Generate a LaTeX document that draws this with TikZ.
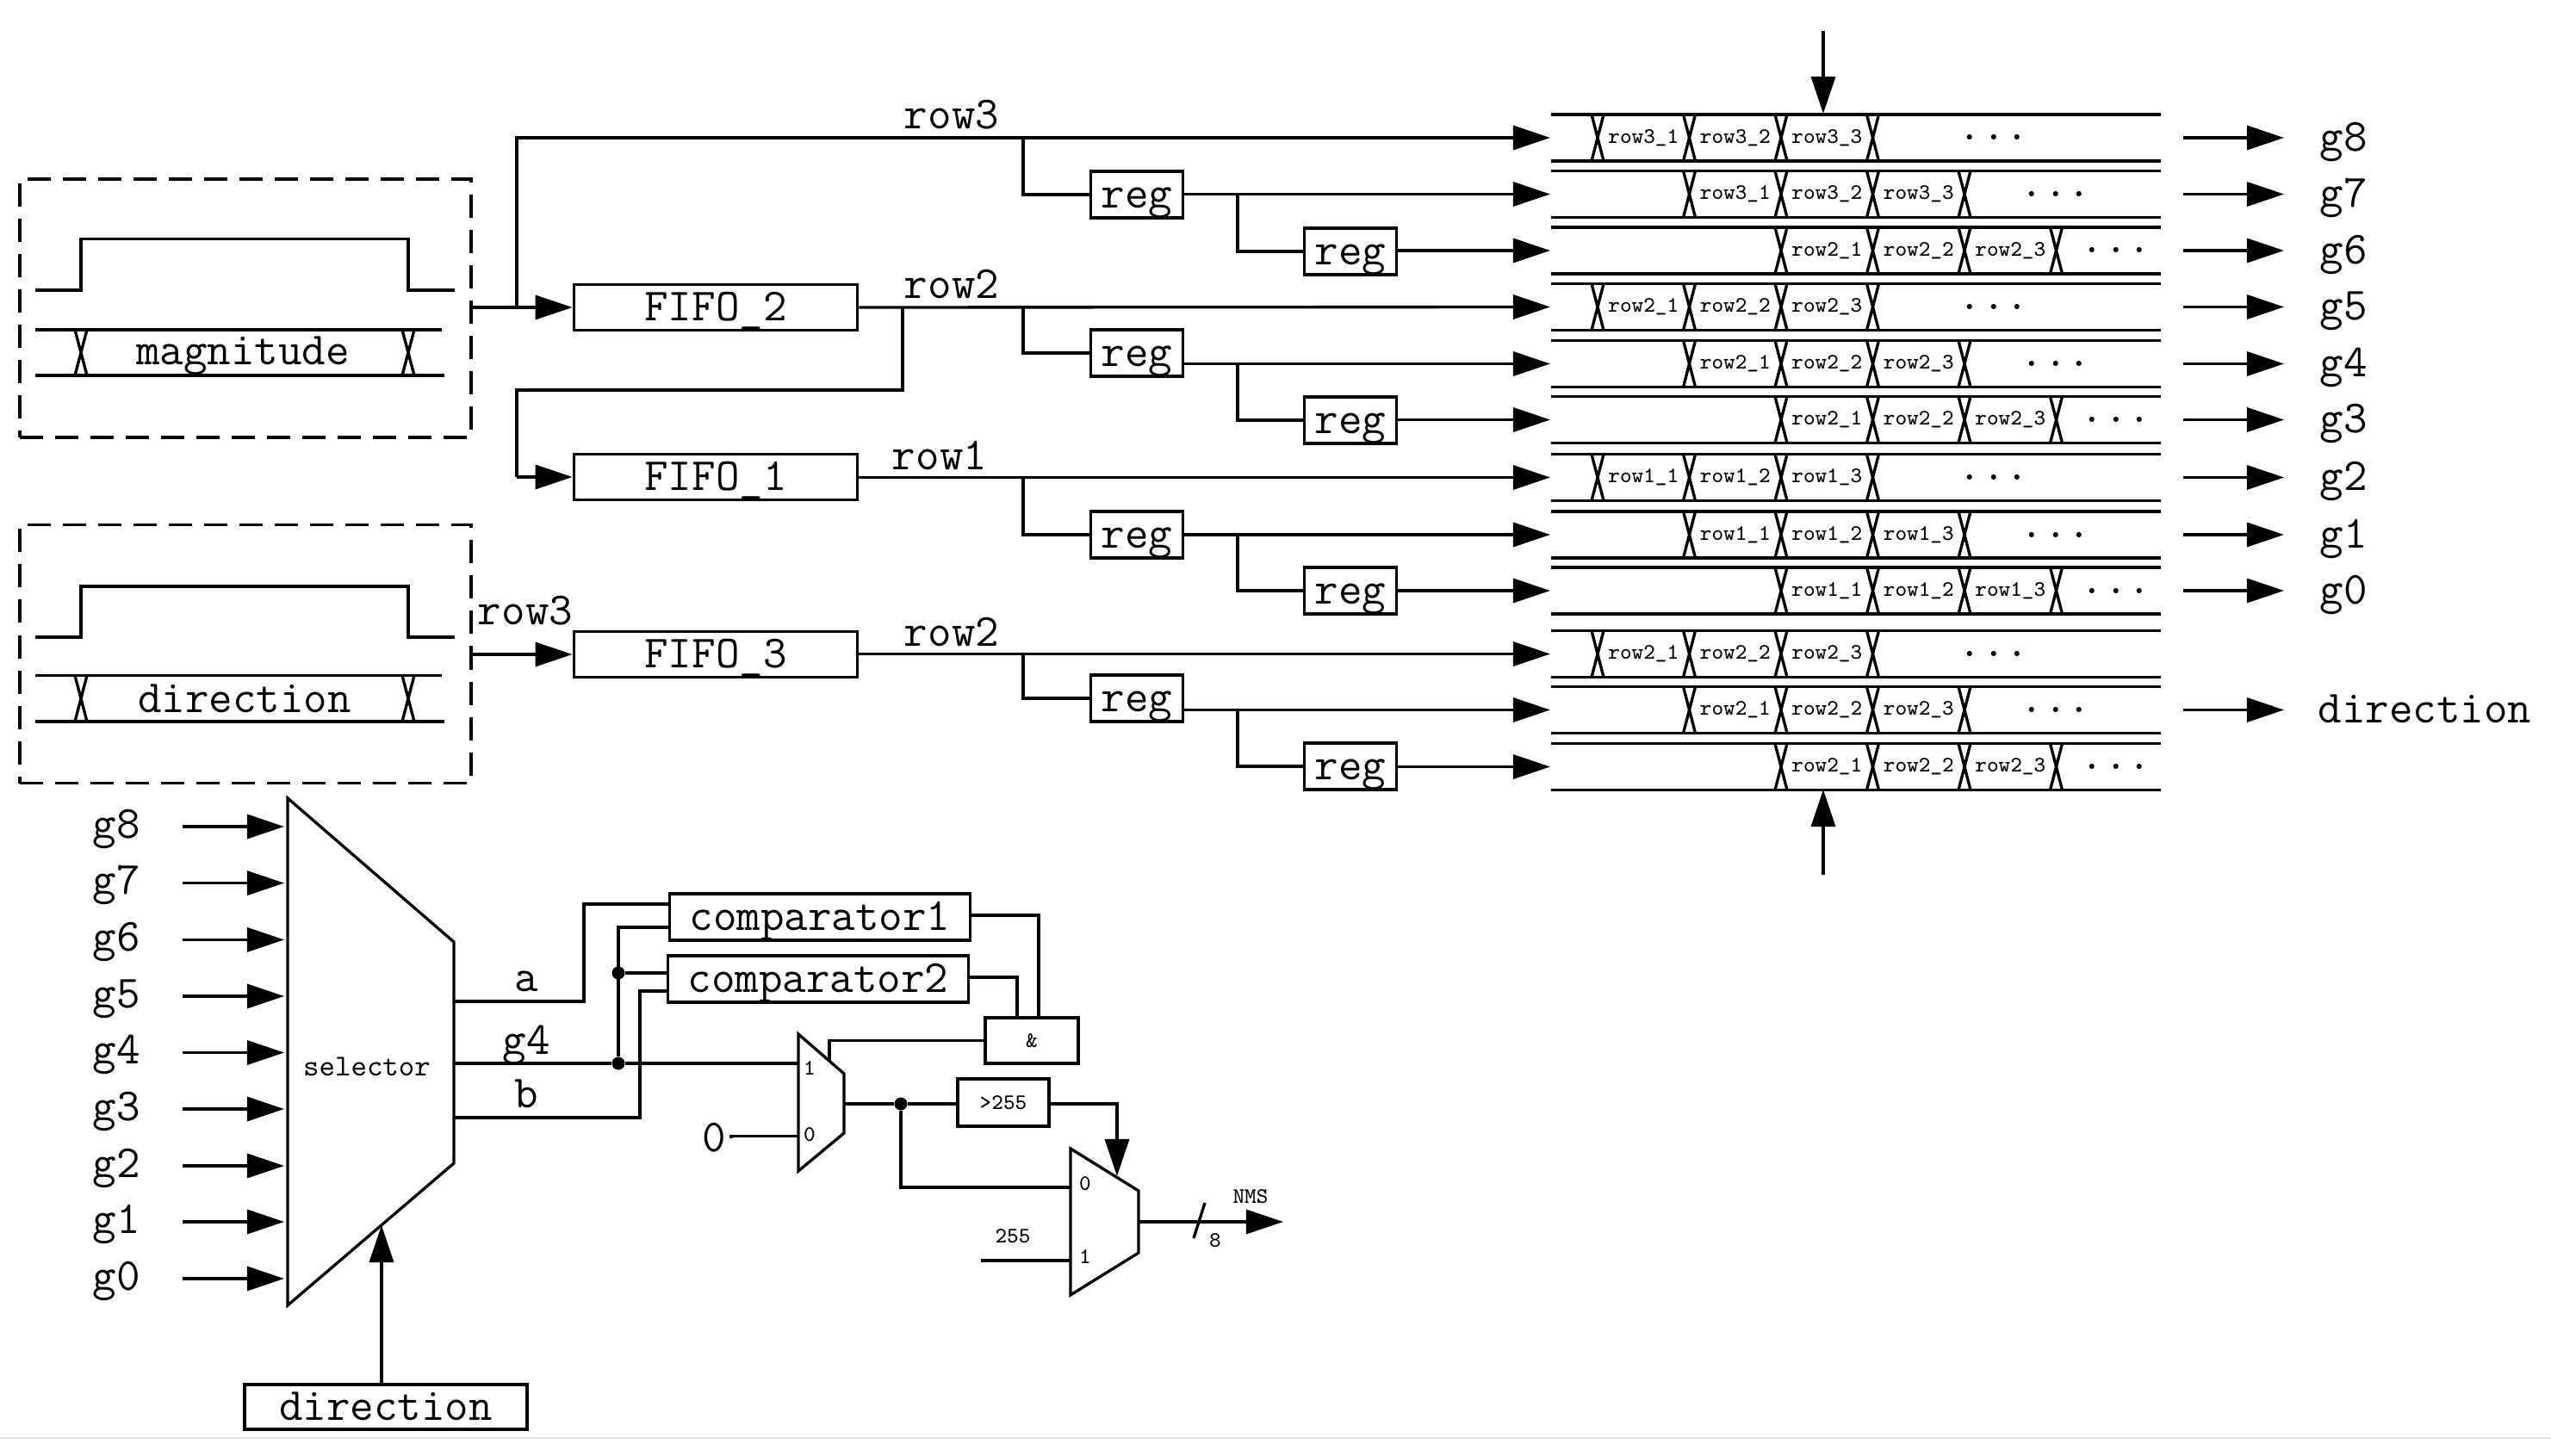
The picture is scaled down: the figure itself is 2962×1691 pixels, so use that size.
\documentclass[tikz,border=0pt]{standalone}
\usetikzlibrary{arrows.meta,calc}

\tikzset{wire/.style={line width=0.95pt},
arr/.style={wire,-{Triangle[length=0.43cm,width=0.28cm]}},
sig/.style={line width=1.1pt},
bigtext/.style={font=\fontsize{15.2}{16}\ttfamily,inner sep=0pt,text height=0.40cm,text depth=0.10cm},
smalltext/.style={font=\fontsize{7.3}{8}\ttfamily,inner sep=0pt},
blockbox/.style={draw,line width=1pt,fill=white,inner sep=0pt,minimum width=#1,bigtext},
regbox/.style={blockbox=1.07cm,minimum height=0.54cm},
fifobox/.style={blockbox=3.29cm,minimum height=0.53cm},
compbox/.style={blockbox=3.49cm,minimum height=0.54cm},
dashbox/.style={draw,line width=1pt,dash pattern=on 0.27cm off 0.14cm,minimum width=5.24cm,minimum height=3cm,inner sep=0pt},
dot/.style={circle,fill=black,inner sep=0pt,minimum size=0.15cm}}

\newcommand{\buscross}[3]{\draw[wire] (#1-7,#2) -- (#1+7,#3) (#1+7,#2) -- (#1-7,#3);
	\draw[sig] (#1-25,#2) -- (#1+25,#2) (#1-25,#3) -- (#1+25,#3);}
\newcommand{\wavebus}[4]{\draw[wire] (41,#2) -- (94,#2) -- (94,#1) -- (474,#1) -- (474,#2) -- (528,#2);
	\draw[wire] (41,#3) -- (513,#3) (41,#4) -- (516,#4);
	\buscross{94}{#3}{#4}
	\buscross{474}{#3}{#4}}

\begin{document}
\begin{tikzpicture}[x=0.01cm,y=-0.01cm]
\useasboundingbox (0,0) rectangle (2962,1691);
\draw[gray!20,line width=0.5pt] (0,1670) -- (2962,1670);

% input waveforms
\node [dashbox] (magbox) at (285,358) {};
\node [dashbox] (dirbox) at (285,759.5) {};
\wavebus{277.5}{337}{383}{436}
\wavebus{681}{740}{784.5}{838}
\node [bigtext] (magtext) at (282,408) {magnitude};
\node [bigtext] (dirtext) at (284,812) {direction};

% fifos
\node [fifobox] (fifo2) at (831,357) {FIFO\_2};
\node [fifobox] (fifo1) at (831,554) {FIFO\_1};
\node [fifobox] (fifo3) at (831,760) {FIFO\_3};

% timing rows
\foreach \y/\pre/\xa/\dotx [count=\n] in {160/row3/1855/2315,225.5/row3/1961.5/2387,291/row2/2068/2457,
356.5/row2/1855/2315,422.5/row2/1961.5/2387,487.5/row2/2068/2457,
554.5/row1/1855/2315,621/row1/1961.5/2387,686/row1/2068/2457,
759.5/row2/1855/2315,824.5/row2/1961.5/2387,890.5/row2/2068/2457}{
	\coordinate (t\n) at (1800,\y);
	\draw[sig] (1801,\y-27) -- (2509,\y-27) (1801,\y+27) -- (2509,\y+27);
	\foreach \k in {0,1,2,3}{\buscross{\xa+106.5*\k}{\y-27}{\y+27}}
	\foreach \k in {1,2,3}{\node [smalltext] (l\n-\k) at (\xa+106.5*\k-53.25,\y) {\pre\_\k};}
	\node [bigtext,anchor=base] (more\n) at (\dotx,\y+3) {...};
}

% registers
\coordinate (xa) at (1188,0);
\coordinate (xb) at (1437,0);
\foreach \n/\nxt/\lst/\rya/\ryb in {1/2/3/226/292,4/5/6/410/488,7/8/9/621/686,10/11/12/811/890}{
	\node [regbox] (rega\n) at (1320,\rya) {reg};
	\node [regbox] (regb\n) at (1568,\ryb) {reg};
	\draw[wire] (t\n -| xa) |- (rega\n.west);
	\draw[arr] (rega\n.east |- t\nxt) -- (t\nxt);
	\draw[wire] (t\nxt -| xb) |- (regb\n.west);
	\draw[arr] (regb\n.east |- t\lst) -- (t\lst);
}

% wires to the rows
\coordinate (xup) at (600,0);
\coordinate (xdown) at (1048,453);
\draw[arr] (magbox.east |- fifo2) -- (fifo2.west);
\draw[arr] (fifo2 -| xup) |- (t1);
\draw[arr] (fifo2.east) -- (t4);
\draw[wire] (fifo2 -| xdown) -- (xdown) -| (xup |- fifo1);
\draw[arr] (xup |- fifo1) -- (fifo1.west);
\draw[arr] (fifo1.east |- t7) -- (t7);
\draw[arr] (dirbox.east |- fifo3) -- (fifo3.west);
\draw[arr] (fifo3.east |- t10) -- (t10);
\node [bigtext] (row3a) at (1105,134) {row3};
\node [bigtext] (row2a) at (1105,331) {row2};
\node [bigtext] (row1a) at (1091,530) {row1};
\node [bigtext] (row2b) at (1105,735) {row2};
\node [bigtext] (row3b) at (610,710) {row3};

% outputs of the rows
\coordinate (xo) at (2535,0);
\coordinate (xp) at (2652,0);
\foreach \n/\lab in {1/g8,2/g7,3/g6,4/g5,5/g4,6/g3,7/g2,8/g1,9/g0}{
	\draw[arr] (t\n -| xo) -- (t\n -| xp);
	\node [bigtext,anchor=west] (out\n) at ($(t\n -| xp)+(41,0)$) {\lab};
}
\draw[arr] (t11 -| xo) -- (t11 -| xp);
\node [bigtext,anchor=west] (out11) at ($(t11 -| xp)+(39,0)$) {direction};

% window arrows
\coordinate (wintop) at (2117,36);
\coordinate (winbot) at (2117,1016);
\draw[arr] (wintop) -- (2117,132);
\draw[arr] (winbot) -- (2117,917);

% selector
\draw[wire] (334,927) -- (527,1094) -- (527,1351) -- (334,1516) -- cycle;
\node [font=\fontsize{10}{12}\ttfamily,inner sep=0pt] (sel) at (426,1239) {selector};
\foreach \y/\lab in {960/g8,1025.6/g7,1091.4/g6,1157/g5,1222.5/g4,1288/g3,1354/g2,1419/g1,1485/g0}{
	\node [bigtext] (in\lab) at (135,\y-2) {\lab};
	\draw[arr] (212,\y) -- (330,\y);
}
\node [blockbox=3.28cm,minimum height=0.52cm] (seldir) at (448,1634) {direction};
\draw[arr] (seldir.north -| 443,0) -- (443,1423);
\node [bigtext] (laba) at (611,1136) {a};
\node [bigtext] (labg) at (611,1209) {g4};
\node [bigtext] (labb) at (611,1271) {b};

% comparators
\node [compbox] (comp1) at (952,1065) {comparator1};
\node [compbox] (comp2) at (950,1137) {comparator2};
\node [draw,line width=1pt,inner sep=0pt,minimum width=1.08cm,minimum height=0.53cm,smalltext] (andbox) at (1198,1208.5) {\&};
\node [dot] (j1) at (718,1235) {};
\node [dot] (j2) at (718,1130) {};
\draw[wire] (527,1163) -- (678,1163) -- (678,1050) -- (comp1.west |- 0,1050);
\draw[wire] (j1) -- (718,1077) -- (comp1.west |- 0,1077);
\draw[wire] (j2) -- (comp2.west |- j2);
\draw[wire] (527,1298) -- (743,1298) -- (743,1151) -- (comp2.west |- 0,1151);
\draw[wire] (comp1.east |- 0,1063) -- (1206,1063) -- (andbox.north -| 1206,0);
\draw[wire] (comp2.east |- 0,1135) -- (1181,1135) -- (andbox.north -| 1181,0);

% output muxes
\draw[wire] (927,1201) -- (980,1247) -- (980,1316) -- (927,1360) -- cycle;
\draw[wire] (1243,1334) -- (1322,1383) -- (1322,1455) -- (1243,1504) -- cycle;
\node [smalltext] (mux1a) at (940,1241) {1};
\node [smalltext] (mux1b) at (940,1318) {0};
\node [smalltext] (mux2a) at (1260,1375) {0};
\node [smalltext] (mux2b) at (1260,1460) {1};
\draw[wire] (527,1235) -- (j1) -- (927,1235);
\draw[wire] (andbox.west) -- (963,1208.5) -- (963,1232);
\node [bigtext] (zero) at (829,1322) {0};
\draw[wire] (zero.east -| 849,0) -- (849,1319.5) -- (927,1319.5);
\node [dot] (j3) at (1046,1282) {};
\node [draw,line width=1pt,inner sep=0pt,minimum width=1.06cm,minimum height=0.55cm,smalltext] (gt) at (1165,1280.5) {>255};
\draw[wire] (980,1282) -- (j3) -- (gt.west |- j3);
\draw[arr] (gt.east |- j3) -- (1297,1282) -- (1297,1366);
\draw[wire] (j3) -- (1046,1379) -- (1243,1379);
\node [smalltext] (c255) at (1176,1436) {255};
\draw[wire] (1139,1464) -- (1243,1464);
\coordinate (nmsin) at (1322,1419);
\coordinate (nmsout) at (1490,1419);
\draw[arr] (nmsin) -- (nmsout);
\draw[wire] (1399,1397) -- (1386,1438);
\node [smalltext] (nw) at (1411,1441) {8};
\node [smalltext] (nms) at (1452,1390) {NMS};
\end{tikzpicture}
\end{document}
